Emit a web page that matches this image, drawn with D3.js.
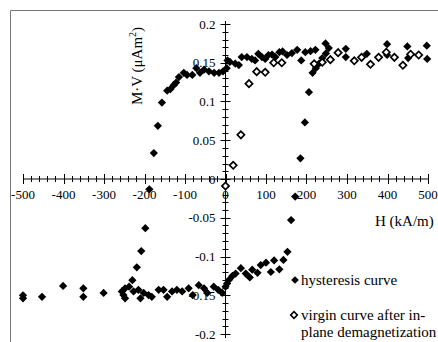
<!DOCTYPE html>
<html>
<head>
<meta charset="utf-8">
<script src="https://cdn.jsdelivr.net/npm/d3@7"></script>
<style>
  body { margin: 0; background: #fff; }
  svg text { font-family: "Liberation Serif", "Times New Roman", Times, "DejaVu Serif", serif; }
</style>
</head>
<body>
<div id="chart"></div>
<script>
// hysteresis curve (H in kA/m, M·V in µAm²)
const hystH = [
  -177, -167, -157, -144, -136, -128, -122, -115, -103, -95, -82, -72, -63, -53, -41, -28, -16, -6,
  3, 5, 11, 24, 33, 40, 53, 65, 73, 81, 90, 98, 106, 115, 123, 133, 141, 152, 164, 177, 187, 197,
  210, 222, 247, 255, 297, 297, 349, 399, 399, 449, 451, 497, 498,
  -188, -198, -208, -219, -230,
  -500, -500, -453, -401, -351, -351, -301, -256, -252, -248, -248, -238, -227, -215, -210, -202,
  -190, -182, -165, -153, -144, -132, -120, -107, -91, -81, -66, -53, -45, -29, -18, -8, 4,
  0, 9, 17, 25, 38, 50, 60, 66, 79, 87, 100, 112, 120, 133, 143, 153, 162, 172,
  185, 196, 206, 215, 223, 231, 239, 248
];
const hystM = [
  0.0335, 0.0686, 0.0986, 0.114, 0.116, 0.121, 0.1244, 0.1316, 0.137, 0.1342, 0.1342, 0.143, 0.137, 0.141, 0.139, 0.137, 0.137, 0.139,
  0.143, 0.153, 0.151, 0.149, 0.147, 0.1574, 0.1574, 0.155, 0.153, 0.1615, 0.1574, 0.155, 0.160, 0.1605, 0.1574, 0.1636, 0.1646, 0.160, 0.1625, 0.1667, 0.153, 0.1636,
  0.165, 0.1667, 0.175, 0.169, 0.168, 0.1574, 0.1615, 0.174, 0.160, 0.171, 0.156, 0.172, 0.155,
  -0.0133, -0.0635, -0.093, -0.114, -0.1306,
  -0.154, -0.150, -0.152, -0.138, -0.141, -0.152, -0.147, -0.145, -0.1497, -0.141, -0.154, -0.139, -0.145, -0.143, -0.154, -0.147,
  -0.1497, -0.152, -0.143, -0.143, -0.152, -0.145, -0.143, -0.145, -0.141, -0.1497, -0.137, -0.141, -0.147, -0.139, -0.143, -0.147, -0.1347,
  -0.139, -0.130, -0.125, -0.122, -0.115, -0.122, -0.127, -0.117, -0.121, -0.111, -0.108, -0.120, -0.105, -0.1165, -0.1045, -0.094, -0.053, -0.0226,
  0.0267, 0.073, 0.112, 0.137, 0.143, 0.149, 0.156, 0.162
];

// virgin curve after in-plane demagnetization
const virginH = [0, 19, 38, 58, 77, 98, 119, 139, 219, 239, 259, 278, 318, 336, 358, 378, 397, 417, 438, 457, 477];
const virginM = [-0.009, 0.0177, 0.057, 0.123, 0.1385, 0.1377, 0.150, 0.150, 0.1486, 0.1506, 0.154, 0.163, 0.1525, 0.157, 0.148, 0.157, 0.1636, 0.157, 0.1467, 0.161, 0.160];

const xTicks = [-500, -400, -300, -200, -100, 0, 100, 200, 300, 400, 500];
const yTicks = [-0.2, -0.15, -0.1, -0.05, 0, 0.05, 0.1, 0.15, 0.2];
const yTickLabels = ['-0.2', '-0.15', '-0.1', '-0.05', '0', '0.05', '0.1', '0.15', '0.2'];

const width = 438, height = 342;
const serif = '"Liberation Serif", "Times New Roman", Times, "DejaVu Serif", serif';

const svg = d3.select('#chart').append('svg')
  .attr('width', width)
  .attr('height', height)
  .attr('font-family', serif);

// scanned page border
svg.append('path')
  .attr('d', 'M10.5,342 V10.5 H438')
  .attr('fill', 'none')
  .attr('stroke', '#777')
  .attr('stroke-width', 1);

const x = d3.scaleLinear().domain([-500, 500]).range([23, 428]);
const y = d3.scaleLinear().domain([-0.2, 0.2]).range([334, 24]);

const x0 = x(0), y0 = y(0);

// x axis: line with crossing ticks
svg.append('line')
  .attr('x1', x(-500)).attr('x2', x(500))
  .attr('y1', y0).attr('y2', y0)
  .attr('stroke', '#000');

svg.append('g').selectAll('line')
  .data(d3.range(-500, 501, 20))
  .enter().append('line')
  .attr('x1', d => Math.round(x(d)) + 0.5)
  .attr('x2', d => Math.round(x(d)) + 0.5)
  .attr('y1', d => y0 - (d % 100 === 0 ? 5 : 3))
  .attr('y2', d => y0 + (d % 100 === 0 ? 5 : 3))
  .attr('stroke', '#000');

svg.append('g').selectAll('text')
  .data(xTicks)
  .enter().append('text')
  .attr('x', d => x(d))
  .attr('y', y0 + 20)
  .attr('text-anchor', 'middle')
  .attr('font-size', 13)
  .text(d => d);

// y axis
svg.append('line')
  .attr('x1', x0).attr('x2', x0)
  .attr('y1', y(0.2) - 3).attr('y2', y(-0.2) + 4)
  .attr('stroke', '#000');

svg.append('g').selectAll('line')
  .data(d3.range(-20, 21, 1))
  .enter().append('line')
  .attr('y1', d => Math.round(y(d / 100)) + 0.5)
  .attr('y2', d => Math.round(y(d / 100)) + 0.5)
  .attr('x1', d => x0 - (d % 5 === 0 ? 5 : 3))
  .attr('x2', d => x0 + (d % 5 === 0 ? 5 : 3))
  .attr('stroke', '#000');

svg.append('g').selectAll('text')
  .data(yTicks)
  .enter().append('text')
  .attr('x', x0 - 10)
  .attr('y', d => y(d))
  .attr('dy', '0.35em')
  .attr('text-anchor', 'end')
  .attr('font-size', 13)
  .text((d, i) => yTickLabels[i]);

// axis titles
svg.append('text')
  .attr('x', 375)
  .attr('y', 226)
  .attr('font-size', 15)
  .text('H (kA/m)');

const yTitle = svg.append('text')
  .attr('transform', 'translate(142,66) rotate(-90)')
  .attr('text-anchor', 'middle')
  .attr('font-size', 15);
yTitle.append('tspan').text('M·V (μAm');
yTitle.append('tspan').attr('font-size', 10).attr('dy', -6).text('2');
yTitle.append('tspan').attr('dy', 6).text(')');

// markers
const diamond = d3.symbol().type(d3.symbolSquare);

svg.append('g').selectAll('path')
  .data(hystH.map((h, i) => [h, hystM[i]]))
  .enter().append('path')
  .attr('d', diamond.size(34)())
  .attr('transform', d => `translate(${x(d[0])},${y(d[1])}) rotate(45)`)
  .attr('fill', '#000');

svg.append('g').selectAll('path')
  .data(virginH.map((h, i) => [h, virginM[i]]))
  .enter().append('path')
  .attr('d', diamond.size(26)())
  .attr('transform', d => `translate(${x(d[0])},${y(d[1])}) rotate(45)`)
  .attr('fill', '#fff')
  .attr('stroke', '#000')
  .attr('stroke-width', 1.7);

// legend
const legend = svg.append('g');
legend.append('path')
  .attr('d', diamond.size(30)())
  .attr('transform', 'translate(295,280) rotate(45)')
  .attr('fill', '#000');
legend.append('text')
  .attr('x', 301).attr('y', 285)
  .attr('font-size', 15)
  .text('hysteresis curve');
legend.append('path')
  .attr('d', diamond.size(22)())
  .attr('transform', 'translate(294,315) rotate(45)')
  .attr('fill', '#fff')
  .attr('stroke', '#000')
  .attr('stroke-width', 1.6);
legend.append('text')
  .attr('x', 301).attr('y', 320)
  .attr('font-size', 15)
  .text('virgin curve after in-');
legend.append('text')
  .attr('x', 301).attr('y', 337)
  .attr('font-size', 15)
  .text('plane demagnetization');
</script>
</body>
</html>
